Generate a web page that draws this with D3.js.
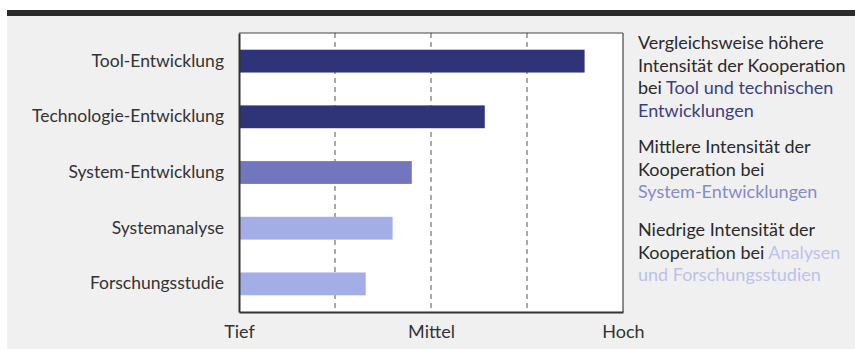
<!DOCTYPE html>
<html>
<head>
<meta charset="utf-8">
<script src="https://cdn.jsdelivr.net/npm/d3@7/dist/d3.min.js"></script>
<style>
  html, body { margin: 0; padding: 0; background: #ffffff; }
  svg { display: block; }
  text { font-family: Lato, "Open Sans", sans-serif; }
</style>
</head>
<body>
<script>
// Kategorien und Intensität der Kooperation (0 = Tief, 2 = Mittel, 4 = Hoch)
const categories = ["Tool-Entwicklung", "Technologie-Entwicklung", "System-Entwicklung", "Systemanalyse", "Forschungsstudie"];
const values = [3.6, 2.56, 1.8, 1.6, 1.32];
const groups = ["hoch", "hoch", "mittel", "niedrig", "niedrig"];
const tickValues = [0, 2, 4];
const tickLabels = ["Tief", "Mittel", "Hoch"];

const groupColor = { hoch: "#2f3479", mittel: "#7276be", niedrig: "#a4aee6" };
const groupTextColor = { hoch: "#3b3f80", mittel: "#858bc6", niedrig: "#bac2ea" };

// Erläuterungen rechts: je Block Zeilen aus [Text, Gruppe|null]-Segmenten
const notes = [
  [[["Vergleichsweise höhere", null]],
   [["Intensität der Kooperation", null]],
   [["bei ", null], ["Tool und technischen", "hoch"]],
   [["Entwicklungen", "hoch"]]],
  [[["Mittlere Intensität der", null]],
   [["Kooperation bei", null]],
   [["System-Entwicklungen", "mittel"]]],
  [[["Niedrige Intensität der", null]],
   [["Kooperation bei ", null], ["Analysen", "niedrig"]],
   [["und Forschungsstudien", "niedrig"]]]
];
const noteTops = [49, 153, 236];

const W = 855, H = 349;
const svg = d3.select("body").append("svg").attr("width", W).attr("height", H);

// Papierhintergrund und Kopfleiste
svg.append("rect").attr("x", 7).attr("y", 16).attr("width", W - 7).attr("height", H - 16).attr("fill", "#f0f0f0");
svg.append("rect").attr("x", 7).attr("y", 10).attr("width", W - 7).attr("height", 6).attr("fill", "#2b2b2d");

const plot = { left: 239, right: 623, top: 33, bottom: 312 };

const x = d3.scaleLinear().domain([0, 4]).range([plot.left, plot.right]);
const y = d3.scaleBand().domain(categories).range([plot.top, plot.bottom]).paddingInner(0.59).paddingOuter(0.3);

// Zeichenfläche
svg.append("rect")
  .attr("x", plot.left).attr("y", plot.top)
  .attr("width", plot.right - plot.left).attr("height", plot.bottom - plot.top)
  .attr("fill", "#ffffff");

// gestrichelte Hilfslinien
svg.append("g").selectAll("line").data([1, 2, 3]).join("line")
  .attr("x1", d => x(d)).attr("x2", d => x(d))
  .attr("y1", plot.top).attr("y2", plot.bottom)
  .attr("stroke", "#555").attr("stroke-width", 1).attr("stroke-dasharray", "5,4");

// Balken
svg.append("g").selectAll("rect").data(categories).join("rect")
  .attr("x", x(0))
  .attr("y", d => y(d))
  .attr("width", (d, i) => x(values[i]) - x(0))
  .attr("height", y.bandwidth())
  .attr("fill", (d, i) => groupColor[groups[i]]);

// Rahmen: oben/rechts dünn, links/unten kräftiger
svg.append("line").attr("x1", plot.left).attr("x2", plot.right).attr("y1", plot.top).attr("y2", plot.top)
  .attr("stroke", "#444").attr("stroke-width", 1.2);
svg.append("line").attr("x1", plot.right).attr("x2", plot.right).attr("y1", plot.top).attr("y2", plot.bottom)
  .attr("stroke", "#444").attr("stroke-width", 1.2);

// y-Achse mit Kategorienamen
const yAxis = svg.append("g").attr("transform", `translate(${plot.left},0)`)
  .call(d3.axisLeft(y).tickSize(0).tickPadding(15));
yAxis.select(".domain").attr("stroke", "#333").attr("stroke-width", 2);
yAxis.selectAll("text").attr("font-size", 17.5).attr("fill", "#333").attr("font-family", "Lato, sans-serif");

// x-Achse mit Tief / Mittel / Hoch
const xAxis = svg.append("g").attr("transform", `translate(0,${plot.bottom})`)
  .call(d3.axisBottom(x).tickValues(tickValues).tickSize(0).tickPadding(13)
    .tickFormat((d, i) => tickLabels[i]));
xAxis.select(".domain").attr("stroke", "#333").attr("stroke-width", 2);
xAxis.selectAll("text").attr("font-size", 18).attr("fill", "#333").attr("font-family", "Lato, sans-serif");

// Erläuterungstexte
const lineH = 22.5;
notes.forEach((block, b) => {
  block.forEach((line, l) => {
    const t = svg.append("text")
      .attr("x", 638).attr("y", noteTops[b] + l * lineH)
      .attr("font-size", 18).attr("fill", "#2a2a2a");
    line.forEach(([txt, g]) => {
      t.append("tspan").text(txt).attr("fill", g ? groupTextColor[g] : "#2a2a2a");
    });
  });
});
</script>
</body>
</html>
